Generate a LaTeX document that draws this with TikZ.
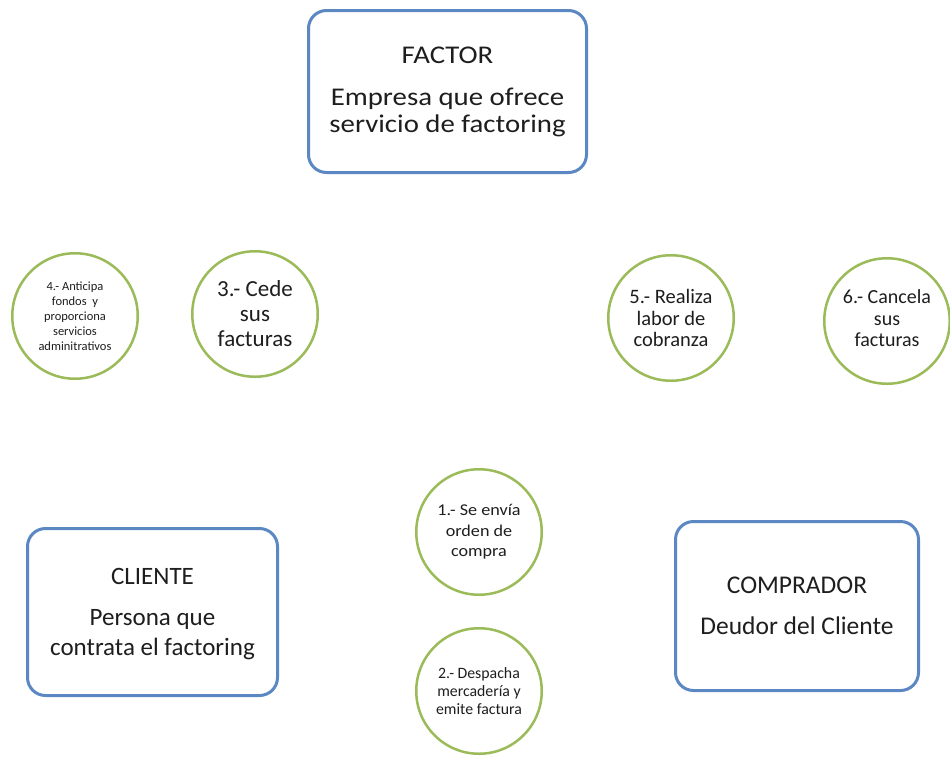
\documentclass[tikz,border=0pt]{standalone}
\usepackage{fontspec}
\setmainfont{Carlito}
\definecolor{partyblue}{HTML}{5B87C2}
\definecolor{stepgreen}{HTML}{9BBB59}
\definecolor{ink}{HTML}{1E1E1E}
% centred lines of text, stretched horizontally by #1
\newcommand{\widelines}[2]{\scalebox{#1}[1]{\begin{tabular}{@{}c@{}}#2\end{tabular}}}
\begin{document}
\begin{tikzpicture}[x=1pt,y=-1pt,
  party/.style={draw=partyblue, line width=3pt, rounded corners=18pt, fill=white, inner sep=0pt},
  partytext/.style={text=ink, align=center, inner sep=0pt, font=\fontsize{25}{30}\selectfont},
  stepcirc/.style={circle, draw=stepgreen, line width=2.5pt, fill=white,
    text=ink, align=center, inner sep=0pt, minimum size=125.5pt},
]
\useasboundingbox (0,0) rectangle (950,758);

% the three parties
\node[party, minimum width=278pt, minimum height=162pt] (factor) at (447.5,91.5) {};
\node[partytext, font=\fontsize{25.5}{27}\selectfont] (factortext) at (447.5,93)
  {\widelines{1.13}{FACTOR\\[15pt]Empresa que ofrece\\servicio de factoring}};
\node[party, minimum width=250pt, minimum height=167pt] (cliente) at (152.5,612) {};
\node[partytext] (clientetext) at (152.5,614.5)
  {CLIENTE\\[11pt]Persona que\\contrata el factoring};
\node[party, minimum width=243pt, minimum height=169pt] (comprador) at (797,606) {};
\node[partytext, font=\fontsize{25.5}{30}\selectfont] (compradortext) at (797,606)
  {COMPRADOR\\[11pt]Deudor del Cliente};

% numbered steps of the operation
\node[stepcirc, font=\fontsize{12.5}{15}\selectfont] (s4) at (75,316)
  {4.- Anticipa\\fondos~~y\\proporciona\\servicios\\adminitrativos};
\node[stepcirc, font=\fontsize{23}{25}\selectfont] (s3) at (255,314)
  {3.- Cede\\sus\\facturas};
\node[stepcirc, font=\fontsize{20.5}{21.5}\selectfont] (s5) at (671,318)
  {5.- Realiza\\labor de\\cobranza};
\node[stepcirc, font=\fontsize{20}{21.5}\selectfont] (s6) at (887,321)
  {\raisebox{0pt}[\height][\depth]{\begin{tabular}{@{}c@{}}6.- Cancela\\sus\\facturas\end{tabular}}};
\node[stepcirc, font=\fontsize{16.5}{20.5}\selectfont] (s1) at (479,532)
  {\widelines{1.1}{1.- Se envía\\orden de\\compra}};
\node[stepcirc, font=\fontsize{15.8}{18}\selectfont] (s2) at (479,691)
  {2.- Despacha\\mercadería y\\emite factura};
\end{tikzpicture}
\end{document}
